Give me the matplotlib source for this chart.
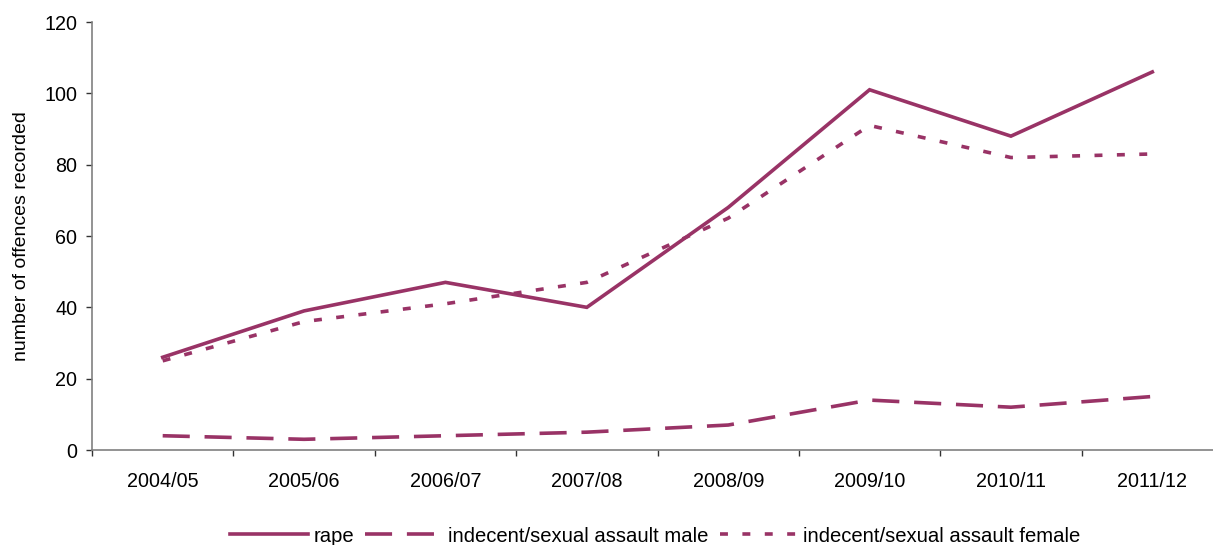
import matplotlib
matplotlib.use("Agg")
import matplotlib.pyplot as plt
from matplotlib.ticker import FixedLocator, NullFormatter

plt.rcParams['font.family'] = ['Liberation Sans', 'DejaVu Sans']

years = ["2004/05", "2005/06", "2006/07", "2007/08", "2008/09", "2009/10", "2010/11", "2011/12"]
rape = [26, 39, 47, 40, 68, 101, 88, 106]
assault_male = [4, 3, 4, 5, 7, 14, 12, 15]
assault_female = [25, 36, 41, 47, 65, 91, 82, 83]

color = "#993366"
W, H = 1213, 545
fig = plt.figure(figsize=(W / 100, H / 100), dpi=100)
ax = fig.add_axes([92 / W, 1 - 450 / H, (1223 - 92) / W, (450 - 22) / H])

x = list(range(len(years)))
lw = 2.6
ax.plot(x, rape, color=color, lw=lw, solid_joinstyle='miter', label="rape")
ax.plot(x, assault_male, color=color, lw=lw, dashes=(7.5, 4.1), dash_capstyle='butt',
        label="indecent/sexual assault male")
ax.plot(x, assault_female, color=color, lw=lw, dashes=(2.2, 4.0), dash_capstyle='butt',
        label="indecent/sexual assault female")

ax.set_xlim(-0.5, len(years) - 0.5)
ax.set_ylim(0, 120)
ax.set_yticks(range(0, 121, 20))
ax.set_xticks(x)
ax.set_xticklabels(years)
ax.xaxis.set_minor_locator(FixedLocator([i - 0.5 for i in range(len(years) + 1)]))
ax.xaxis.set_minor_formatter(NullFormatter())
ax.tick_params(axis='x', which='major', length=0, pad=16, labelsize=14.2)
ax.tick_params(axis='x', which='minor', length=4.5, width=1, color='#333333', direction='out')
ax.tick_params(axis='y', length=4.2, width=1, color='#333333', labelsize=14.2, pad=6.5)

for side in ("top", "right"):
    ax.spines[side].set_visible(False)
for side in ("left", "bottom"):
    ax.spines[side].set_color("#808080")
    ax.spines[side].set_linewidth(1.2)

ax.set_ylabel("number of offences recorded", fontsize=14, labelpad=10)

fig.legend(loc="center", bbox_to_anchor=(655 / W, 1 - 536 / H), ncol=3, frameon=False,
           fontsize=14.6, handlelength=3.85, columnspacing=0.55, handletextpad=0.25,
           borderpad=0, borderaxespad=0)

fig.savefig("out.png", dpi=100)
